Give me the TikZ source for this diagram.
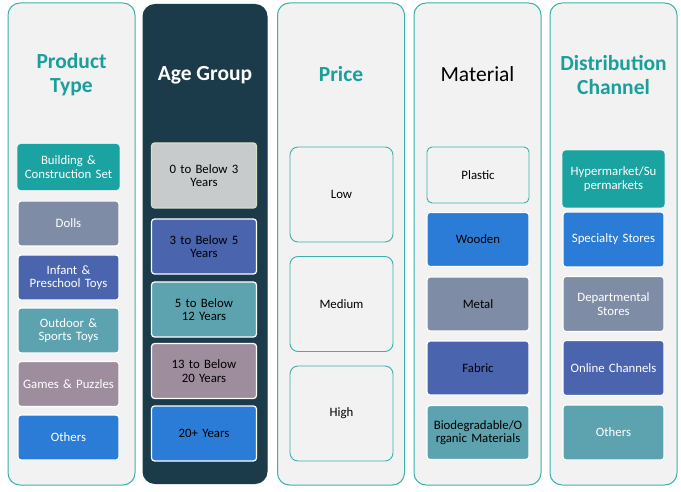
\documentclass[tikz,border=0pt]{standalone}
\usepackage{fontspec}
\setmainfont{Carlito}
\usepackage{xcolor}
\usepackage{tikz}

\definecolor{panelgray}{HTML}{F2F2F2}
\definecolor{tealline}{HTML}{3BB1AD}
\definecolor{titleteal}{HTML}{1A9F9B}
\definecolor{agenavy}{HTML}{1C3B4A}
\definecolor{boxteal}{HTML}{1AA3A0}
\definecolor{boxblue}{HTML}{2B7CD7}
\definecolor{boxslate}{HTML}{7F8CA6}
\definecolor{boxindigo}{HTML}{4A64AE}
\definecolor{boxaqua}{HTML}{5CA3AF}
\definecolor{boxmauve}{HTML}{9E8D9D}
\definecolor{boxsilver}{HTML}{C8CBCB}
\definecolor{boxsage}{HTML}{D5DEC6}

\begin{document}
\begin{tikzpicture}[x=1pt, y=-1pt,
    panel/.style={draw=tealline, line width=1pt, fill=panelgray, rounded corners=12pt,
        minimum width=127pt, minimum height=482pt, inner sep=0pt},
    heading/.style={font=\fontsize{21.5}{24}\selectfont\bfseries, text=titleteal, align=center},
    item/.style={draw=white, line width=1.2pt, rounded corners=3pt, minimum width=101pt,
        minimum height=45pt, text width=100pt, align=center, inner sep=0pt,
        font=\fontsize{12.8}{13.6}\selectfont, text=white},
    ageitem/.style={item, minimum width=105pt, minimum height=55pt, text=black},
    priceitem/.style={item, draw=tealline, fill=panelgray, line width=0.9pt, rounded corners=8pt,
        minimum width=103pt, minimum height=95pt, text=black},
    matitem/.style={item, minimum width=102pt, minimum height=54pt, text=black},
    chanitem/.style={item, minimum width=101pt, minimum height=55pt}]

    \useasboundingbox (0,0) rectangle (681,492);

    \node[panel] (typepanel) at (71.5,244) {};
    \node[panel, fill=agenavy, draw=agenavy, minimum width=124pt, minimum height=479pt] (agepanel) at (205,244) {};
    \node[panel] (pricepanel) at (341,244) {};
    \node[panel] (matpanel) at (477.5,244) {};
    \node[panel] (chanpanel) at (613.5,244) {};

    \node[heading] (typetitle) at (71.5,75) {Product\\Type};
    \node[heading, text=white] (agetitle) at (205,75) {Age Group};
    \node[heading] (pricetitle) at (341,74) {Price};
    \node[heading, font=\fontsize{21.5}{24}\selectfont, text=black] (mattitle) at (477.5,74) {Material};
    \node[heading] (chantitle) at (613.5,75) {Distribution\\Channel};

    \node[item, fill=boxteal, draw=boxteal] (building) at (68.5,167) {Building \&\\Construction Set};
    \node[item, fill=boxslate] (dolls) at (68.5,223.5) {Dolls};
    \node[item, fill=boxindigo] (infant) at (68.5,277.5) {Infant \&\\Preschool Toys};
    \node[item, fill=boxaqua] (outdoor) at (68.5,330.5) {Outdoor \&\\Sports Toys};
    \node[item, fill=boxmauve] (games) at (68.5,384) {Games \& Puzzles};
    \node[item, fill=boxblue] (typeothers) at (68.5,437.5) {Others};

    \node[ageitem, fill=boxsilver, draw=boxsage, minimum height=65pt] (agezero) at (204,175.5) {0 to Below 3\\Years};
    \node[ageitem, fill=boxindigo] (agethree) at (204,246.5) {3 to Below 5\\Years};
    \node[ageitem, fill=boxaqua] (agefive) at (204,309.5) {5 to Below\\12 Years};
    \node[ageitem, fill=boxmauve] (agethirteen) at (204,371) {13 to Below\\20 Years};
    \node[ageitem, fill=boxblue] (agetwenty) at (204,433.5) {20+ Years};

    \node[priceitem] (low) at (341.5,194.5) {Low};
    \node[priceitem] (medium) at (341.5,304) {Medium};
    \node[priceitem] (high) at (341.5,413.5) {High};

    \node[matitem, fill=panelgray, draw=tealline, line width=0.9pt, rounded corners=5pt, minimum height=56pt] (plastic) at (478,175) {Plastic};
    \node[matitem, fill=boxblue] (wooden) at (478,239.5) {Wooden};
    \node[matitem, fill=boxslate] (metal) at (478,304) {Metal};
    \node[matitem, fill=boxindigo] (fabric) at (478,368) {Fabric};
    \node[matitem, fill=boxaqua] (organic) at (478,432.5) {Biodegradable/O\\rganic Materials};

    \node[chanitem, fill=boxteal, draw=boxteal, minimum height=56pt] (hyper) at (613.5,179) {Hypermarket/Su\\permarkets};
    \node[chanitem, fill=boxblue] (specialty) at (613.5,239.5) {Specialty Stores};
    \node[chanitem, fill=boxslate] (departmental) at (613.5,304) {Departmental\\Stores};
    \node[chanitem, fill=boxindigo] (online) at (613.5,368) {Online Channels};
    \node[chanitem, fill=boxaqua] (chanothers) at (613.5,432.5) {Others};
\end{tikzpicture}
\end{document}
